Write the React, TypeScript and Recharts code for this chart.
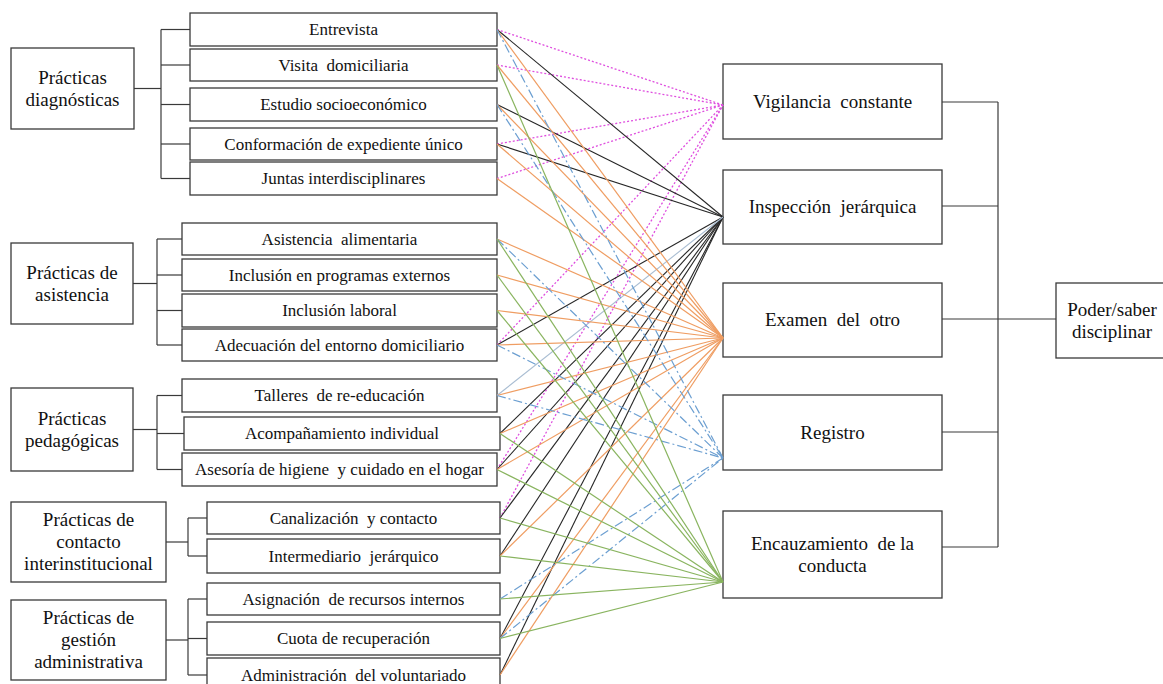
import { ScatterChart, Scatter, XAxis, YAxis, ReferenceArea } from "recharts"

const W = 1163
const H = 684
const FONT = "'Liberation Serif', 'Times New Roman', 'DejaVu Serif', serif"

// ---- diagram content ----
const groupLabels = [
  ["Prácticas", "diagnósticas"],
  ["Prácticas de", "asistencia"],
  ["Prácticas", "pedagógicas"],
  ["Prácticas de", "contacto", "interinstitucional"],
  ["Prácticas de", "gestión", "administrativa"],
]

const items = [
  "Entrevista",
  "Visita  domiciliaria",
  "Estudio socioeconómico",
  "Conformación de expediente único",
  "Juntas interdisciplinares",
  "Asistencia  alimentaria",
  "Inclusión en programas externos",
  "Inclusión laboral",
  "Adecuación del entorno domiciliario",
  "Talleres  de re-educación",
  "Acompañamiento individual",
  "Asesoría de higiene  y cuidado en el hogar",
  "Canalización  y contacto",
  "Intermediario  jerárquico",
  "Asignación  de recursos internos",
  "Cuota de recuperación",
  "Administración  del voluntariado",
]
const itemGroup = [0, 0, 0, 0, 0, 1, 1, 1, 1, 2, 2, 2, 3, 3, 4, 4, 4]

const targets = [
  ["Vigilancia  constante"],
  ["Inspección  jerárquica"],
  ["Examen  del  otro"],
  ["Registro"],
  ["Encauzamiento  de la", "conducta"],
]
const finalLabel = ["Poder/saber", "disciplinar"]

// which practices feed each mechanism (item indexes)
const vigilanciaLinks = [0, 1, 3, 4, 8, 11, 12]
const inspeccionLinks = [0, 2, 3, 8, 10, 11, 12, 13, 15, 16]
const inspeccionLightLinks = [9]
const examenLinks = [0, 1, 2, 3, 4, 5, 6, 7, 8, 9, 10, 11, 13, 15, 16]
const registroLinks = [0, 2, 5, 8, 9, 14, 15]
const encauzamientoLinks = [1, 5, 6, 7, 10, 11, 12, 13, 14, 15]

// ---- layout (diagram units, y grows downward) ----
const groupBoxes = [
  [11, 134, 48, 129],
  [11, 133, 243, 324],
  [11, 133, 388, 471],
  [11, 166, 502, 582],
  [11, 166, 600, 680],
]
const groupBracketX = [161, 157, 157, 188, 188]
const itemBoxes = [
  [190, 497, 13, 46],
  [190, 497, 49, 81],
  [190, 497, 88, 121],
  [190, 497, 128, 160],
  [190, 497, 162, 195],
  [182, 497, 223, 255],
  [182, 497, 259, 291],
  [182, 497, 294, 327],
  [182, 497, 329, 361],
  [182, 497, 379, 412],
  [184, 500, 417, 450],
  [182, 497, 453, 486],
  [207, 500, 502, 534],
  [207, 500, 539, 573],
  [207, 500, 583, 615],
  [207, 500, 622, 655],
  [207, 500, 658, 692],
]
const targetBoxes = [
  [723, 942, 64, 139],
  [723, 942, 170, 244],
  [723, 942, 283, 357],
  [723, 942, 395, 470],
  [723, 942, 511, 598],
]
const targetAnchorY = [105, 217, 338, 458, 582]
const targetStubY = [102, 206, 319, 432, 547]
const finalBox = [1056, 1168, 283, 358]
const rightBracketX = 998

const EDGE = "#3a3a3a"

type Pt = { x: number; y: number }
type Seg = { pts: Pt[]; stroke: string; dash?: string; width: number }

const mid = (b: number[]) => (b[2] + b[3]) / 2

const linkStyles = [
  { links: vigilanciaLinks, t: 0, stroke: "#df4fdf", dash: "2 2", width: 1.3 },
  { links: inspeccionLinks, t: 1, stroke: "#262626", width: 1.1 },
  { links: inspeccionLightLinks, t: 1, stroke: "#a9bdd2", width: 1.1 },
  { links: examenLinks, t: 2, stroke: "#ef9d62", width: 1.2 },
  { links: registroLinks, t: 3, stroke: "#6c9fd1", dash: "9 3 2 3", width: 1.2 },
  { links: encauzamientoLinks, t: 4, stroke: "#89b45f", width: 1.2 },
]

const connections: Seg[] = linkStyles.flatMap((s) =>
  s.links.map((i) => ({
    pts: [
      { x: itemBoxes[i][1], y: mid(itemBoxes[i]) },
      { x: targetBoxes[s.t][0], y: targetAnchorY[s.t] },
    ],
    stroke: s.stroke,
    dash: s.dash,
    width: s.width,
  }))
)

const brackets: Seg[] = []
groupBoxes.forEach((g, gi) => {
  const bx = groupBracketX[gi]
  const members = items.map((_, i) => i).filter((i) => itemGroup[i] === gi)
  const ys = members.map((i) => mid(itemBoxes[i]))
  brackets.push({ pts: [{ x: g[1], y: mid(g) }, { x: bx, y: mid(g) }], stroke: EDGE, width: 1.2 })
  brackets.push({ pts: [{ x: bx, y: ys[0] }, { x: bx, y: ys[ys.length - 1] }], stroke: EDGE, width: 1.2 })
  members.forEach((i) => {
    brackets.push({
      pts: [{ x: bx, y: mid(itemBoxes[i]) }, { x: itemBoxes[i][0], y: mid(itemBoxes[i]) }],
      stroke: EDGE,
      width: 1.2,
    })
  })
})
targetBoxes.forEach((b, t) => {
  brackets.push({ pts: [{ x: b[1], y: targetStubY[t] }, { x: rightBracketX, y: targetStubY[t] }], stroke: EDGE, width: 1.2 })
})
brackets.push({
  pts: [{ x: rightBracketX, y: targetStubY[0] }, { x: rightBracketX, y: targetStubY[targetStubY.length - 1] }],
  stroke: EDGE,
  width: 1.2,
})
brackets.push({ pts: [{ x: rightBracketX, y: 319 }, { x: finalBox[0], y: 319 }], stroke: EDGE, width: 1.2 })

function BoxShape(props: any) {
  const { x, y, width, height, lines, size, lh } = props
  const cx = x + width / 2
  const cy = y + height / 2
  const start = cy - ((lines.length - 1) * lh) / 2 + size * 0.34
  return (
    <g>
      <rect x={x} y={y} width={width} height={height} fill="#fff" stroke={EDGE} strokeWidth={1.3} />
      <text textAnchor="middle" fontSize={size} fill="#111" style={{ whiteSpace: "pre", fontFamily: FONT }}>
        {lines.map((l: string, k: number) => (
          <tspan key={k} x={cx} y={start + k * lh}>
            {l}
          </tspan>
        ))}
      </text>
    </g>
  )
}

const noDot = () => <g />

function box(key: string, b: number[], lines: string[], size: number, lh: number) {
  return (
    <ReferenceArea
      key={key}
      x1={b[0]}
      x2={b[1]}
      y1={b[2]}
      y2={b[3]}
      ifOverflow="visible"
      shape={(p: any) => <BoxShape {...p} lines={lines} size={size} lh={lh} />}
    />
  )
}

function seg(key: string, s: Seg) {
  return (
    <Scatter
      key={key}
      data={s.pts}
      isAnimationActive={false}
      shape={noDot}
      legendType="none"
      line={{ stroke: s.stroke, strokeWidth: s.width, strokeDasharray: s.dash, fill: "none" }}
    />
  )
}

export default function App() {
  return (
    <div style={{ position: "absolute", left: 0, top: 0, width: W, height: H, background: "#fff", fontFamily: FONT }}>
      <ScatterChart width={W} height={H} margin={{ top: 0, right: 0, bottom: 0, left: 0 }}>
        <XAxis type="number" dataKey="x" domain={[0, W]} hide allowDataOverflow />
        <YAxis type="number" dataKey="y" domain={[0, H]} reversed hide allowDataOverflow />
        {brackets.map((s, k) => seg(`b${k}`, s))}
        {groupBoxes.map((b, k) => box(`g${k}`, b, groupLabels[k], 19, 22))}
        {itemBoxes.map((b, k) => box(`i${k}`, b, [items[k]], 17, 20))}
        {targetBoxes.map((b, k) => box(`t${k}`, b, targets[k], 19, 22))}
        {box("final", finalBox, finalLabel, 19, 22)}
        {connections.map((s, k) => seg(`c${k}`, s))}
      </ScatterChart>
    </div>
  )
}
